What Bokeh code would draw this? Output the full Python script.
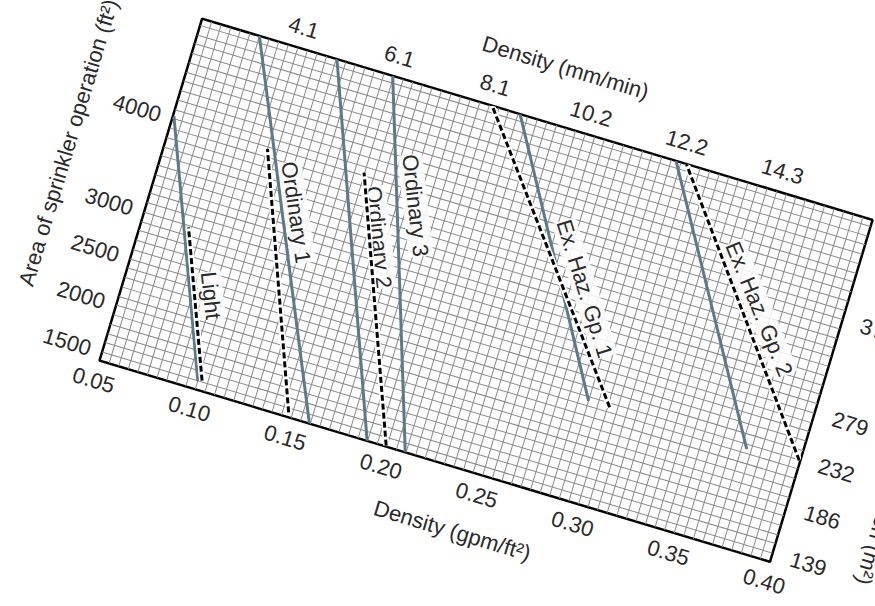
import math
from bokeh.plotting import figure
from bokeh.models import (ColumnDataSource, LinearAxis, FixedTicker,
                          SingleIntervalTicker, Range1d, LabelSet, InlineStyleSheet)
from bokeh.core.properties import value
from bokeh.embed import file_html
from bokeh.resources import INLINE

# ---------------- data ----------------
density_ticks = [0.05, 0.10, 0.15, 0.20, 0.25, 0.30, 0.35, 0.40]
density_labels = ["0.05", "0.10", "0.15", "0.20", "0.25", "0.30", "0.35", "0.40"]
mm_ticks = [0.10, 0.15, 0.20, 0.25, 0.30, 0.35]
mm_labels = ["4.1", "6.1", "8.1", "10.2", "12.2", "14.3"]
area_ticks = [1500, 2000, 2500, 3000, 4000]
area_labels = ["1500", "2000", "2500", "3000", "4000"]
m2_labels = ["139", "186", "232", "279", "372"]

# solid design curves (density gpm/ft2, area ft2)
solid_names = ["Light", "Ordinary 1", "Ordinary 2", "Ordinary 3", "Ex. Haz. Gp. 1", "Ex. Haz. Gp. 2"]
solid_x = [[0.100, 0.0505], [0.1596, 0.0799], [0.1897, 0.1204],
           [0.2096, 0.1495], [0.290, 0.216], [0.3727, 0.2974]]
solid_y = [[1500, 4030], [1410, 5070], [1410, 5070],
           [1410, 5070], [2456, 5070], [2448, 5070]]

# dashed curves
dashed_names = ["Light", "Ordinary 1", "Ordinary 2", "Ex. Haz. Gp. 1", "Ex. Haz. Gp. 2"]
dashed_x = [[0.102, 0.0735], [0.148, 0.100], [0.1995, 0.1497],
            [0.301, 0.2014], [0.3995, 0.3028]]
dashed_y = [[1515, 2980], [1460, 3985], [1420, 4035],
            [2455, 5070], [2490, 5070]]

# curve labels
label_text = ["Light", "Ordinary 1", "Ordinary 2", "Ordinary 3", "Ex. Haz. Gp. 1", "Ex. Haz. Gp. 2"]
label_x = [0.094, 0.1229, 0.166, 0.179, 0.272, 0.3585]
label_y = [2378, 3443, 3444, 3863, 3546, 3861]
label_angle = [-67, -65, -67, -67, -56, -51]

FONT = "Liberation Sans"
TXT = "#2a2a2a"
NB = "\u00a0"

p = figure(width=940, height=537,
           x_range=Range1d(0.05, 0.40), y_range=Range1d(1410, 5070),
           output_backend="svg", toolbar_location=None,
           min_border_left=120, min_border_right=120,
           min_border_top=90, min_border_bottom=90,
           background_fill_color="white", border_fill_color="white")

p.outline_line_color = "black"
p.outline_line_width = 2.5

p.xgrid.ticker = SingleIntervalTicker(interval=0.005, num_minor_ticks=0)
p.ygrid.ticker = SingleIntervalTicker(interval=100, num_minor_ticks=0)
for g in (p.xgrid, p.ygrid):
    g.grid_line_color = "#8a8a8a"
    g.grid_line_width = 1
    g.grid_line_alpha = 1.0


def style_axis(ax, ticks, labels, title, lab_standoff, title_standoff):
    ax.ticker = FixedTicker(ticks=ticks, minor_ticks=[])
    ax.major_label_overrides = {t: s for t, s in zip(ticks, labels)}
    ax.axis_line_color = None
    ax.major_tick_line_color = None
    ax.minor_tick_line_color = None
    ax.major_tick_in = 0
    ax.major_tick_out = 0
    ax.major_label_text_font = FONT
    ax.major_label_text_font_size = "22px"
    ax.major_label_text_color = TXT
    ax.major_label_standoff = lab_standoff
    ax.axis_label = title
    ax.axis_label_text_font = FONT
    ax.axis_label_text_font_size = "22px"
    ax.axis_label_text_font_style = "normal"
    ax.axis_label_text_color = TXT
    ax.axis_label_standoff = title_standoff


style_axis(p.xaxis[0], density_ticks, density_labels,
           NB * 12 + "Density (gpm/ft²)", 13, 18)
style_axis(p.yaxis[0], area_ticks, area_labels,
           NB * 7 + "Area of sprinkler operation (ft²)", 12, 16)

top_axis = LinearAxis()
style_axis(top_axis, mm_ticks, mm_labels, NB * 4 + "Density (mm/min)", 13, 14)
p.add_layout(top_axis, "above")

right_axis = LinearAxis()
style_axis(right_axis, area_ticks, m2_labels,
           NB * 7 + "Area of sprinkler operation (m²)", 19, 24)
p.add_layout(right_axis, "right")

# labels beneath the curves, above the grid
lab_src = ColumnDataSource(dict(x=label_x, y=label_y, text=label_text, angle=label_angle))
labels = LabelSet(x="x", y="y", text="text", angle="angle", angle_units="deg",
                  source=lab_src, text_align="center", text_baseline="middle",
                  text_font=value(FONT), text_font_size=value("22px"),
                  text_color=TXT,
                  background_fill_color="white", background_fill_alpha=0.85,
                  level="underlay")
p.add_layout(labels)

solid_src = ColumnDataSource(dict(xs=solid_x, ys=solid_y, name=solid_names))
p.multi_line(xs="xs", ys="ys", source=solid_src, line_color="#5c7a8b", line_width=3)

dash_src = ColumnDataSource(dict(xs=dashed_x, ys=dashed_y, name=dashed_names))
p.multi_line(xs="xs", ys="ys", source=dash_src, line_color="white", line_width=6)
p.multi_line(xs="xs", ys="ys", source=dash_src, line_color="black", line_width=3,
             line_dash="6 3")

# the scanned chart is tilted: rotate the drawing surface inside the figure
p.stylesheets = [InlineStyleSheet(css="""
:host { overflow: visible !important; }
.bk-Canvas {
  transform: translate(15.7px, 21.1px) rotate(16.7deg);
  transform-origin: 50% 50%;
  overflow: visible !important;
}
""")]

html = file_html(p, INLINE)
# the tilted page is cropped by the window, like the scanned original
html = html.replace("</head>",
                    "<style>html, body { overflow: hidden !important; }</style></head>", 1)
open("out.html", "w").write(html)
